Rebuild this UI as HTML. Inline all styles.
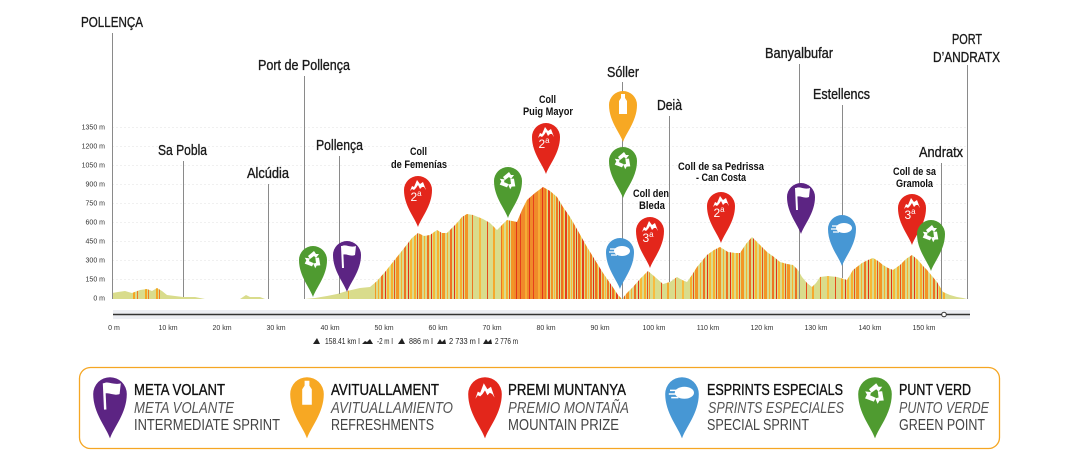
<!DOCTYPE html>
<html><head><meta charset="utf-8"><style>
html,body{margin:0;padding:0;background:#fff;}
svg{display:block;}
</style></head><body>
<svg width="1080" height="460" viewBox="0 0 1080 460" xmlns="http://www.w3.org/2000/svg">
<defs>
<path id="pin" d="M0,37 C-3,28 -14,16 -14,0 A14,14 0 0 1 14,0 C14,16 3,28 0,37 Z"/>
<clipPath id="prof"><polygon points="112,299 112,293 118,292 125,291 132,293 140,290 147,289 152,291 157,288 162,291 167,295 175,296 183,297 195,297 205,299 240,299 243,297 246,295 250,297 260,297 265,299 305,299 315,298 327,296 337,294 347,291 360,288 370,287 377,281 385,272 397,257 405,247 412,238 418,233 424,236 430,235 437,230 442,233 447,233 452,228 457,223 462,217 467,214 473,215 478,217 483,219 490,223 497,230 502,225 507,220 512,221 517,222 522,210 527,200 535,193 543,187 550,191 557,197 563,207 570,217 578,231 587,247 595,260 603,273 612,286 618,295 622,299 627,293 633,287 640,279 648,271 655,277 663,284 670,282 677,277 682,280 687,282 692,275 697,267 702,261 707,255 714,250 720,247 728,252 735,253 740,253 746,244 752,237 758,243 767,252 774,257 780,262 787,264 793,265 798,270 802,277 807,283 812,287 816,283 820,277 828,276 837,277 847,280 853,270 862,263 868,260 873,258 878,261 883,265 888,268 893,270 900,265 906,259 912,255 918,260 923,266 927,270 932,276 937,282 943,292 950,295 957,297 963,298 967,299"/></clipPath>
<pattern id="s1" patternUnits="userSpaceOnUse" x="0" y="0" width="23" height="460">
<rect x="0" y="0" width="2" height="460" fill="#f7b02f"/><rect x="3" y="0" width="1" height="460" fill="#ea4f1e"/><rect x="5" y="0" width="3" height="460" fill="#f39526"/><rect x="10" y="0" width="1" height="460" fill="#f7b02f"/><rect x="13" y="0" width="2" height="460" fill="#ee7322"/><rect x="17" y="0" width="1" height="460" fill="#e2301a"/><rect x="19" y="0" width="2" height="460" fill="#f8b935"/>
</pattern>
<pattern id="s2" patternUnits="userSpaceOnUse" x="0" y="0" width="17" height="460">
<rect x="0" y="0" width="2" height="460" fill="#ee7022"/><rect x="2" y="0" width="1" height="460" fill="#f7b02f"/><rect x="4" y="0" width="2" height="460" fill="#e63e1c"/><rect x="7" y="0" width="2" height="460" fill="#f39526"/><rect x="10" y="0" width="1" height="460" fill="#f8bb38"/><rect x="12" y="0" width="2" height="460" fill="#ef7822"/><rect x="15" y="0" width="1" height="460" fill="#e02c19"/>
</pattern>
<pattern id="s3" patternUnits="userSpaceOnUse" x="0" y="0" width="29" height="460">
<rect x="0" y="0" width="2" height="460" fill="#f5a82e"/><rect x="8" y="0" width="1" height="460" fill="#ee7322"/><rect x="15" y="0" width="2" height="460" fill="#f8bb40"/><rect x="23" y="0" width="1" height="460" fill="#e64a1d"/>
</pattern>
<pattern id="s4" patternUnits="userSpaceOnUse" x="0" y="0" width="13" height="460">
<rect x="0" y="0" width="13" height="460" fill="#f08a2a"/><rect x="0" y="0" width="1" height="460" fill="#e5401c"/><rect x="5" y="0" width="2" height="460" fill="#f6ac34"/><rect x="9" y="0" width="1" height="460" fill="#e2361a"/>
</pattern>
</defs>

<rect width="1080" height="460" fill="#fff"/>

<!-- grid -->
<g stroke="#f0f0f0" stroke-width="1" stroke-dasharray="2,2">
<line x1="112" y1="127.5" x2="968" y2="127.5"/><line x1="112" y1="146.5" x2="968" y2="146.5"/><line x1="112" y1="165.5" x2="968" y2="165.5"/><line x1="112" y1="184.5" x2="968" y2="184.5"/><line x1="112" y1="203.5" x2="968" y2="203.5"/><line x1="112" y1="222.5" x2="968" y2="222.5"/><line x1="112" y1="241.5" x2="968" y2="241.5"/><line x1="112" y1="260.5" x2="968" y2="260.5"/><line x1="112" y1="279.5" x2="968" y2="279.5"/>
</g>

<!-- y labels -->
<g font-family="Liberation Sans, sans-serif" font-size="7" fill="#333" text-anchor="end">
<text x="105" y="129.5">1350 m</text><text x="105" y="148.5">1200 m</text><text x="105" y="167.5">1050 m</text><text x="105" y="186.5">900 m</text><text x="105" y="205.5">750 m</text><text x="105" y="224.5">600 m</text><text x="105" y="243.5">450 m</text><text x="105" y="262.5">300 m</text><text x="105" y="281.5">150 m</text><text x="105" y="300.5">0 m</text>
</g>

<!-- profile -->
<g clip-path="url(#prof)">
<rect x="100" y="100" width="880" height="200" fill="#d9dc8c"/>
<rect x="133" y="100" width="2" height="200" fill="#f5a623"/>
<rect x="137" y="100" width="1" height="200" fill="#ef7a25"/>
<rect x="145" y="100" width="2" height="200" fill="#f5a623"/>
<rect x="148" y="100" width="1" height="200" fill="#ef7a25"/>
<rect x="156" y="100" width="2" height="200" fill="#f5a623"/>
<rect x="159" y="100" width="1" height="200" fill="#ef7a25"/>
<rect x="348" y="100" width="1" height="200" fill="#f5a623"/>
<rect x="375" y="100" width="95" height="200" fill="url(#s1)"/>
<rect x="470" y="100" width="32" height="200" fill="url(#s3)"/>
<rect x="502" y="100" width="12" height="200" fill="url(#s1)"/>
<rect x="514" y="100" width="31" height="200" fill="url(#s4)"/>
<rect x="545" y="100" width="77" height="200" fill="url(#s2)"/>
<rect x="623" y="100" width="27" height="200" fill="url(#s1)"/>
<rect x="650" y="100" width="40" height="200" fill="url(#s3)"/>
<rect x="690" y="100" width="110" height="200" fill="url(#s1)"/>
<rect x="800" y="100" width="45" height="200" fill="url(#s3)"/>
<rect x="845" y="100" width="100" height="200" fill="url(#s1)"/>
</g>

<!-- place lines -->
<g stroke="#8a8a8a" stroke-width="1">
<line x1="112.5" y1="33" x2="112.5" y2="299"/>
<line x1="183.5" y1="161" x2="183.5" y2="297"/>
<line x1="268.5" y1="184" x2="268.5" y2="299"/>
<line x1="304.5" y1="76" x2="304.5" y2="299"/>
<line x1="339.5" y1="156" x2="339.5" y2="294"/>
<line x1="622.5" y1="82" x2="622.5" y2="299"/>
<line x1="669.5" y1="116" x2="669.5" y2="282"/>
<line x1="799.5" y1="64" x2="799.5" y2="299"/>
<line x1="842.5" y1="105" x2="842.5" y2="278"/>
<line x1="941.5" y1="163" x2="941.5" y2="299"/>
<line x1="967.5" y1="65" x2="967.5" y2="299"/>
</g>

<!-- place names -->
<g font-family="Liberation Sans Narrow, Liberation Sans, sans-serif" font-size="15" fill="#1a1a1a" stroke="#1a1a1a" stroke-width="0.35">
<text x="81" y="27" textLength="62" lengthAdjust="spacingAndGlyphs">POLLENÇA</text>
<text x="158" y="155" textLength="49" lengthAdjust="spacingAndGlyphs">Sa Pobla</text>
<text x="247" y="178" textLength="42" lengthAdjust="spacingAndGlyphs">Alcúdia</text>
<text x="258" y="70" textLength="92" lengthAdjust="spacingAndGlyphs">Port de Pollença</text>
<text x="316" y="150" textLength="47" lengthAdjust="spacingAndGlyphs">Pollença</text>
<text x="607" y="77" textLength="32" lengthAdjust="spacingAndGlyphs">Sóller</text>
<text x="657" y="110" textLength="25" lengthAdjust="spacingAndGlyphs">Deià</text>
<text x="765" y="58" textLength="68" lengthAdjust="spacingAndGlyphs">Banyalbufar</text>
<text x="813" y="99" textLength="57" lengthAdjust="spacingAndGlyphs">Estellencs</text>
<text x="919" y="157" textLength="44" lengthAdjust="spacingAndGlyphs">Andratx</text>
<text x="952" y="44" textLength="30" lengthAdjust="spacingAndGlyphs">PORT</text>
<text x="933" y="62" textLength="67" lengthAdjust="spacingAndGlyphs">D’ANDRATX</text>
</g>

<!-- climb names -->
<g font-family="Liberation Sans Narrow, Liberation Sans, sans-serif" font-size="11" font-weight="bold" fill="#111">
<text x="410" y="155" textLength="17" lengthAdjust="spacingAndGlyphs">Coll</text>
<text x="391" y="168" textLength="56" lengthAdjust="spacingAndGlyphs">de Femenías</text>
<text x="539" y="103" textLength="17" lengthAdjust="spacingAndGlyphs">Coll</text>
<text x="523" y="115" textLength="50" lengthAdjust="spacingAndGlyphs">Puig Mayor</text>
<text x="633" y="197" textLength="36" lengthAdjust="spacingAndGlyphs">Coll den</text>
<text x="639" y="209" textLength="26" lengthAdjust="spacingAndGlyphs">Bleda</text>
<text x="678" y="170" textLength="86" lengthAdjust="spacingAndGlyphs">Coll de sa Pedrissa</text>
<text x="696" y="181" textLength="50" lengthAdjust="spacingAndGlyphs">- Can Costa</text>
<text x="893" y="175" textLength="43" lengthAdjust="spacingAndGlyphs">Coll de sa</text>
<text x="896" y="187" textLength="37" lengthAdjust="spacingAndGlyphs">Gramola</text>
</g>

<!-- pins on chart -->
<g transform="translate(313,260)"><use href="#pin" fill="#4f9b30"/>
<g fill="#fff"><path d="M-5,-4 L1,-9 L3,-6 L6,-6 L3,-2 L1,-4 L-3,-1 Z"/><path d="M-5,-4 L1,-9 L3,-6 L6,-6 L3,-2 L1,-4 L-3,-1 Z" transform="rotate(120)"/><path d="M-5,-4 L1,-9 L3,-6 L6,-6 L3,-2 L1,-4 L-3,-1 Z" transform="rotate(240)"/></g></g>
<g transform="translate(347,255)"><use href="#pin" fill="#5c2483"/>
<path d="M-5,-9 L-4,13" stroke="#fff" stroke-width="2"/><path d="M-5,-9 C-1,-11 3,-7 9,-9 L8,0 C3,2 -1,-2 -5,0 Z" fill="#fff"/></g>
<g transform="translate(418,190)"><use href="#pin" fill="#e3261b"/>
<path d="M-8,1 L-6,-4 L-4,-3 L-1,-10 L2,-6 L5,-8 L8,0 L6,-3 L4,-3 L2,-1 L0,-5 L-2,-2 L-4,0 L-6,-1 Z" fill="#fff"/>
<text x="-2" y="11" font-family="Liberation Sans, sans-serif" font-size="12" fill="#fff" text-anchor="middle">2<tspan font-size="8" dy="-5">a</tspan></text></g>
<g transform="translate(508,181)"><use href="#pin" fill="#4f9b30"/>
<g fill="#fff"><path d="M-5,-4 L1,-9 L3,-6 L6,-6 L3,-2 L1,-4 L-3,-1 Z"/><path d="M-5,-4 L1,-9 L3,-6 L6,-6 L3,-2 L1,-4 L-3,-1 Z" transform="rotate(120)"/><path d="M-5,-4 L1,-9 L3,-6 L6,-6 L3,-2 L1,-4 L-3,-1 Z" transform="rotate(240)"/></g></g>
<g transform="translate(546,137)"><use href="#pin" fill="#e3261b"/>
<path d="M-8,1 L-6,-4 L-4,-3 L-1,-10 L2,-6 L5,-8 L8,0 L6,-3 L4,-3 L2,-1 L0,-5 L-2,-2 L-4,0 L-6,-1 Z" fill="#fff"/>
<text x="-2" y="11" font-family="Liberation Sans, sans-serif" font-size="12" fill="#fff" text-anchor="middle">2<tspan font-size="8" dy="-5">a</tspan></text></g>
<g transform="translate(623,105)"><use href="#pin" fill="#f7a823"/>
<path d="M-2,-11 h4 v4 l2,3 v13 h-8 v-13 l2,-3 Z" fill="#fff"/></g>
<g transform="translate(623,161)"><use href="#pin" fill="#4f9b30"/>
<g fill="#fff"><path d="M-5,-4 L1,-9 L3,-6 L6,-6 L3,-2 L1,-4 L-3,-1 Z"/><path d="M-5,-4 L1,-9 L3,-6 L6,-6 L3,-2 L1,-4 L-3,-1 Z" transform="rotate(120)"/><path d="M-5,-4 L1,-9 L3,-6 L6,-6 L3,-2 L1,-4 L-3,-1 Z" transform="rotate(240)"/></g></g>
<g transform="translate(620,252)"><use href="#pin" fill="#4797d4"/>
<ellipse cx="2" cy="-1" rx="8" ry="5" fill="#fff"/><path d="M-10,-3 h7 M-11,0 h8 M-9,3 h6" stroke="#fff" stroke-width="1.3"/></g>
<g transform="translate(650,231)"><use href="#pin" fill="#e3261b"/>
<path d="M-8,1 L-6,-4 L-4,-3 L-1,-10 L2,-6 L5,-8 L8,0 L6,-3 L4,-3 L2,-1 L0,-5 L-2,-2 L-4,0 L-6,-1 Z" fill="#fff"/>
<text x="-2" y="11" font-family="Liberation Sans, sans-serif" font-size="12" fill="#fff" text-anchor="middle">3<tspan font-size="8" dy="-5">a</tspan></text></g>
<g transform="translate(721,206)"><use href="#pin" fill="#e3261b"/>
<path d="M-8,1 L-6,-4 L-4,-3 L-1,-10 L2,-6 L5,-8 L8,0 L6,-3 L4,-3 L2,-1 L0,-5 L-2,-2 L-4,0 L-6,-1 Z" fill="#fff"/>
<text x="-2" y="11" font-family="Liberation Sans, sans-serif" font-size="12" fill="#fff" text-anchor="middle">2<tspan font-size="8" dy="-5">a</tspan></text></g>
<g transform="translate(801,197)"><use href="#pin" fill="#5c2483"/>
<path d="M-5,-9 L-4,13" stroke="#fff" stroke-width="2"/><path d="M-5,-9 C-1,-11 3,-7 9,-9 L8,0 C3,2 -1,-2 -5,0 Z" fill="#fff"/></g>
<g transform="translate(842,229)"><use href="#pin" fill="#4797d4"/>
<ellipse cx="2" cy="-1" rx="8" ry="5" fill="#fff"/><path d="M-10,-3 h7 M-11,0 h8 M-9,3 h6" stroke="#fff" stroke-width="1.3"/></g>
<g transform="translate(912,208)"><use href="#pin" fill="#e3261b"/>
<path d="M-8,1 L-6,-4 L-4,-3 L-1,-10 L2,-6 L5,-8 L8,0 L6,-3 L4,-3 L2,-1 L0,-5 L-2,-2 L-4,0 L-6,-1 Z" fill="#fff"/>
<text x="-2" y="11" font-family="Liberation Sans, sans-serif" font-size="12" fill="#fff" text-anchor="middle">3<tspan font-size="8" dy="-5">a</tspan></text></g>
<g transform="translate(931,234)"><use href="#pin" fill="#4f9b30"/>
<g fill="#fff"><path d="M-5,-4 L1,-9 L3,-6 L6,-6 L3,-2 L1,-4 L-3,-1 Z"/><path d="M-5,-4 L1,-9 L3,-6 L6,-6 L3,-2 L1,-4 L-3,-1 Z" transform="rotate(120)"/><path d="M-5,-4 L1,-9 L3,-6 L6,-6 L3,-2 L1,-4 L-3,-1 Z" transform="rotate(240)"/></g></g>

<!-- distance bar -->
<rect x="113" y="310" width="857" height="9" fill="#eceef3"/>
<line x1="113" y1="314.5" x2="970" y2="314.5" stroke="#333" stroke-width="1.5"/>
<circle cx="944" cy="314.5" r="2.3" fill="#fff" stroke="#333" stroke-width="1"/>

<!-- x labels -->
<g font-family="Liberation Sans, sans-serif" font-size="7" fill="#333" text-anchor="middle">
<text x="114" y="330">0 m</text><text x="168" y="330">10 km</text><text x="222" y="330">20 km</text><text x="276" y="330">30 km</text><text x="330" y="330">40 km</text><text x="384" y="330">50 km</text><text x="438" y="330">60 km</text><text x="492" y="330">70 km</text><text x="546" y="330">80 km</text><text x="600" y="330">90 km</text><text x="654" y="330">100 km</text><text x="708" y="330">110 km</text><text x="762" y="330">120 km</text><text x="816" y="330">130 km</text><text x="870" y="330">140 km</text><text x="924" y="330">150 km</text>
</g>

<!-- stats -->
<g fill="#222">
<path d="M313,344 L317,338 L320,344 Z"/>
<path d="M362,344 L365,341 L367,342 L370,339 L373,344 Z"/>
<path d="M398,344 L402,338 L405,344 Z"/>
<path d="M437,344 L440,339 L442,342 L445,339 L446,344 Z"/>
<path d="M483,344 L486,339 L488,342 L491,339 L492,344 Z"/>
</g>
<g font-family="Liberation Sans, sans-serif" font-size="8" fill="#222">
<text x="325" y="344" textLength="35" lengthAdjust="spacingAndGlyphs">158.41 km I</text>
<text x="377" y="344" textLength="16" lengthAdjust="spacingAndGlyphs">-2 m I</text>
<text x="409" y="344" textLength="24" lengthAdjust="spacingAndGlyphs">886 m I</text>
<text x="449" y="344" textLength="31" lengthAdjust="spacingAndGlyphs">2 733 m I</text>
<text x="495" y="344" textLength="23" lengthAdjust="spacingAndGlyphs">2 776 m</text>
</g>

<!-- legend -->
<rect x="79.5" y="367.5" width="920" height="81" rx="11" ry="11" fill="none" stroke="#f5a623" stroke-width="1.3"/>

<g transform="translate(110,394) scale(1.2)"><use href="#pin" fill="#5c2483"/>
<path d="M-5,-9 L-4,13" stroke="#fff" stroke-width="2"/><path d="M-5,-9 C-1,-11 3,-7 9,-9 L8,0 C3,2 -1,-2 -5,0 Z" fill="#fff"/></g>
<g transform="translate(307,394) scale(1.2)"><use href="#pin" fill="#f7a823"/>
<path d="M-2,-11 h4 v4 l2,3 v13 h-8 v-13 l2,-3 Z" fill="#fff"/></g>
<g transform="translate(485,394) scale(1.2)"><use href="#pin" fill="#e3261b"/>
<path d="M-8,4 L-6,-2 L-4,-1 L-1,-9 L2,-4 L5,-6 L8,3 L6,0 L4,-1 L2,1 L0,-3 L-2,0 L-4,2 L-6,1 Z" fill="#fff"/></g>
<g transform="translate(682,394) scale(1.2)"><use href="#pin" fill="#4797d4"/>
<ellipse cx="2" cy="-1" rx="8" ry="5" fill="#fff"/><path d="M-10,-3 h7 M-11,0 h8 M-9,3 h6" stroke="#fff" stroke-width="1.3"/></g>
<g transform="translate(875,394) scale(1.2)"><use href="#pin" fill="#4f9b30"/>
<g fill="#fff"><path d="M-5,-4 L1,-9 L3,-6 L6,-6 L3,-2 L1,-4 L-3,-1 Z"/><path d="M-5,-4 L1,-9 L3,-6 L6,-6 L3,-2 L1,-4 L-3,-1 Z" transform="rotate(120)"/><path d="M-5,-4 L1,-9 L3,-6 L6,-6 L3,-2 L1,-4 L-3,-1 Z" transform="rotate(240)"/></g></g>

<g font-family="Liberation Sans Narrow, Liberation Sans, sans-serif" font-size="16">
<g fill="#111" stroke="#111" stroke-width="0.35">
<text x="134" y="395" textLength="91" lengthAdjust="spacingAndGlyphs">META VOLANT</text>
<text x="331" y="395" textLength="108" lengthAdjust="spacingAndGlyphs">AVITUALLAMENT</text>
<text x="508" y="395" textLength="118" lengthAdjust="spacingAndGlyphs">PREMI MUNTANYA</text>
<text x="707" y="395" textLength="136" lengthAdjust="spacingAndGlyphs">ESPRINTS ESPECIALS</text>
<text x="899" y="395" textLength="72" lengthAdjust="spacingAndGlyphs">PUNT VERD</text>
</g>
<g fill="#555" font-style="italic">
<text x="134" y="413" textLength="100" lengthAdjust="spacingAndGlyphs">META VOLANTE</text>
<text x="331" y="413" textLength="122" lengthAdjust="spacingAndGlyphs">AVITUALLAMIENTO</text>
<text x="508" y="413" textLength="121" lengthAdjust="spacingAndGlyphs">PREMIO MONTAÑA</text>
<text x="708" y="413" textLength="136" lengthAdjust="spacingAndGlyphs">SPRINTS ESPECIALES</text>
<text x="899" y="413" textLength="90" lengthAdjust="spacingAndGlyphs">PUNTO VERDE</text>
</g>
<g fill="#444">
<text x="134" y="430" textLength="146" lengthAdjust="spacingAndGlyphs">INTERMEDIATE SPRINT</text>
<text x="331" y="430" textLength="103" lengthAdjust="spacingAndGlyphs">REFRESHMENTS</text>
<text x="508" y="430" textLength="111" lengthAdjust="spacingAndGlyphs">MOUNTAIN PRIZE</text>
<text x="707" y="430" textLength="102" lengthAdjust="spacingAndGlyphs">SPECIAL SPRINT</text>
<text x="899" y="430" textLength="86" lengthAdjust="spacingAndGlyphs">GREEN POINT</text>
</g>
</g>
</svg>
</body></html>
